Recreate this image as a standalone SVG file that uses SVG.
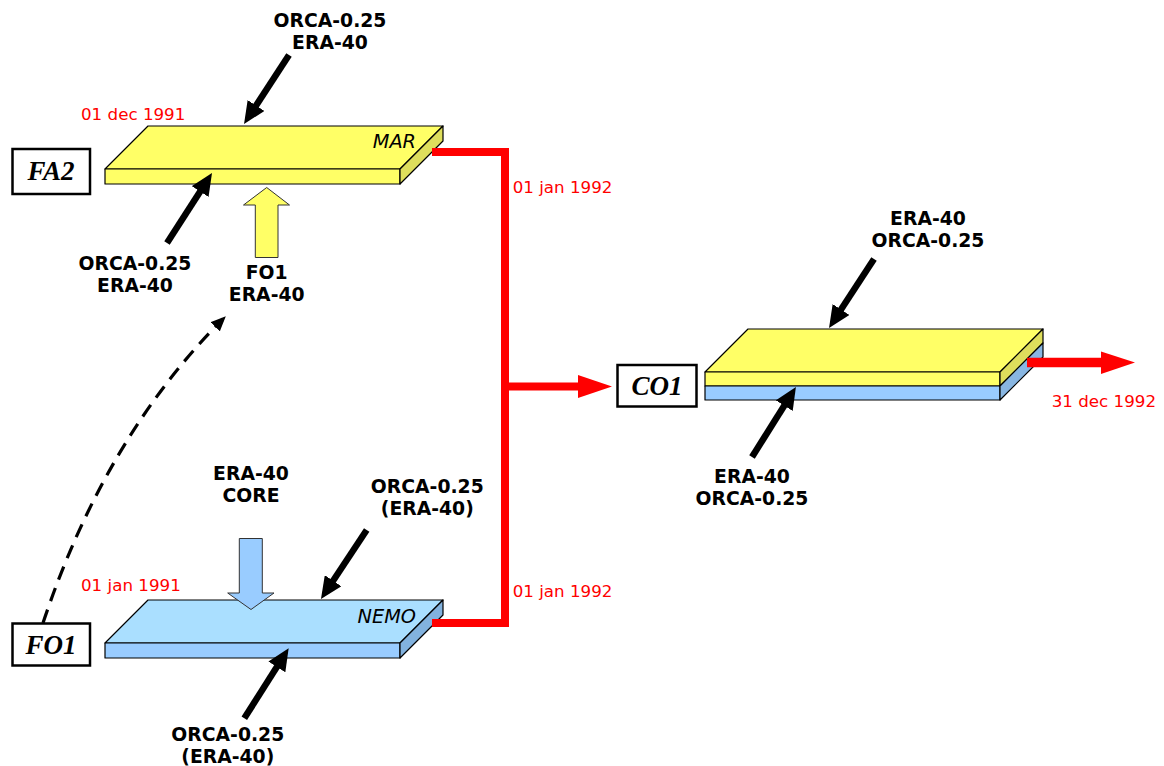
<svg xmlns="http://www.w3.org/2000/svg" width="1164" height="766" viewBox="0 0 1164 766">
<style>
.lbl{font-family:"DejaVu Sans","Liberation Sans",sans-serif;font-weight:bold;font-size:18.8px;text-anchor:middle;fill:#000}
.date{font-family:"DejaVu Sans","Liberation Sans",sans-serif;font-size:16.7px;fill:#ff0000}
.model{font-family:"DejaVu Sans","Liberation Sans",sans-serif;font-style:italic;font-size:19.3px;text-anchor:end;fill:#000}
.box{fill:#fff;stroke:#000;stroke-width:2.5}
.boxt{font-family:"Liberation Serif","DejaVu Serif",serif;font-weight:bold;font-style:italic;font-size:27px;text-anchor:middle;fill:#000}
.slab{stroke:#000;stroke-width:1.2;stroke-linejoin:round}
.ytop{fill:#ffff66}.yfr{fill:#ffff66}.yside{fill:#dede5c}
.btop{fill:#aadfff}.bfr{fill:#99ccff}.bside{fill:#82b2de}
.arr{stroke:#000;stroke-width:6.5;fill:none;marker-end:url(#ah)}
.red{stroke:#ff0000;fill:none;stroke-width:8}
.redh{fill:#ff0000}
.blk{stroke:#333;stroke-width:1}
</style>
<defs>
<marker id="ah" viewBox="0 0 22 20" refX="12" refY="10" markerWidth="22" markerHeight="20" markerUnits="userSpaceOnUse" orient="auto"><path d="M0,0 L22,10 L0,20 z" fill="#000"/></marker>
<marker id="ahs" viewBox="0 0 15 13" refX="11" refY="6.5" markerWidth="15" markerHeight="13" markerUnits="userSpaceOnUse" orient="auto"><path d="M0,0 L15,6.5 L0,13 z" fill="#000"/></marker>
</defs>

<g id="FA2">
<rect class="box" x="12.5" y="149" width="77.5" height="45"/>
<text class="boxt" x="51" y="179.5">FA2</text>
</g>
<g id="FO1">
<rect class="box" x="12.5" y="623.5" width="77.5" height="42"/>
<text class="boxt" x="51" y="653.5">FO1</text>
</g>
<g id="CO1">
<rect class="box" x="617.5" y="365" width="79" height="41.5"/>
<text class="boxt" x="657" y="395">CO1</text>
</g>

<g id="MAR">
<polygon class="slab ytop" points="148,126 443,126 400,169 105,169"/>
<polygon class="slab yfr" points="105,169 400,169 400,184 105,184"/>
<polygon class="slab yside" points="400,169 443,126 443,141 400,184"/>
<text class="model" x="416" y="148">MAR</text>
<text class="date" x="81" y="120">01 dec 1991</text>
</g>

<g id="NEMO">
<polygon class="slab btop" points="148,600 443,600 400,643 105,643"/>
<polygon class="slab bfr" points="105,643 400,643 400,658 105,658"/>
<polygon class="slab bside" points="400,643 443,600 443,615 400,658"/>
<text class="model" x="416" y="622.5">NEMO</text>
<text class="date" x="81" y="591">01 jan 1991</text>
</g>

<g id="COUPLED">
<polygon class="slab ytop" points="748,329 1043,329 1000,372 705,372"/>
<polygon class="slab yfr" points="705,372 1000,372 1000,386 705,386"/>
<polygon class="slab bfr" points="705,386 1000,386 1000,400 705,400"/>
<polygon class="slab yside" points="1000,372 1043,329 1043,343 1000,386"/>
<polygon class="slab bfr" style="fill:#88b6e2" points="1000,386 1043,343 1043,357 1000,400"/>
</g>

<g id="forcing-arrows">
<polygon class="blk" fill="#ffff66" points="266.7,187.5 289.5,205 278,205 278,257.5 255.3,257.5 255.3,205 243.5,205"/>
<polygon class="blk" fill="#99ccff" points="239.3,538.5 262.3,538.5 262.3,593 274,593 251,609.5 227.7,593 239.3,593"/>
</g>

<g id="connectors">
<line class="arr" x1="289" y1="55" x2="249.5" y2="115.6"/>
<line class="arr" x1="167" y1="243" x2="206.6" y2="181.4"/>
<line class="arr" x1="366.7" y1="530" x2="326.5" y2="590.7"/>
<line class="arr" x1="244.3" y1="718.3" x2="283.3" y2="656.8"/>
<line class="arr" x1="874" y1="259" x2="834.5" y2="319.6"/>
<line class="arr" x1="752" y1="457" x2="790.6" y2="395.5"/>
<path d="M43,623 Q105,437 223,319" fill="none" stroke="#000" stroke-width="3.2" stroke-dasharray="14 9" marker-end="url(#ahs)"/>
<polyline class="red" points="432,152 505,152 505,623 432,623"/>
<line class="red" x1="505" y1="386.5" x2="580" y2="386.5"/>
<polygon class="redh" points="578,375 612,386.5 578,398"/>
<line class="red" style="stroke-width:9.5" x1="1027" y1="362.5" x2="1102" y2="362.5"/>
<polygon class="redh" points="1101,351.5 1135,362.5 1101,374"/>
</g>

<g id="labels">
<text class="lbl" x="330" y="27">ORCA-0.25</text>
<text class="lbl" x="330" y="49.3">ERA-40</text>
<text class="lbl" x="135" y="270">ORCA-0.25</text>
<text class="lbl" x="135" y="292.3">ERA-40</text>
<text class="lbl" x="266.7" y="279.3">FO1</text>
<text class="lbl" x="266.7" y="301">ERA-40</text>
<text class="lbl" x="251" y="480">ERA-40</text>
<text class="lbl" x="251" y="502.3">CORE</text>
<text class="lbl" x="427.3" y="492.7">ORCA-0.25</text>
<text class="lbl" x="427.3" y="515">(ERA-40)</text>
<text class="lbl" x="227.8" y="741">ORCA-0.25</text>
<text class="lbl" x="227.8" y="763.3">(ERA-40)</text>
<text class="lbl" x="928" y="225">ERA-40</text>
<text class="lbl" x="928" y="246.7">ORCA-0.25</text>
<text class="lbl" x="752" y="482.7">ERA-40</text>
<text class="lbl" x="752" y="505">ORCA-0.25</text>
<text class="date" x="512.7" y="192.7">01 jan 1992</text>
<text class="date" x="512.7" y="596.7">01 jan 1992</text>
<text class="date" x="1051.7" y="406.7">31 dec 1992</text>
</g>
</svg>
